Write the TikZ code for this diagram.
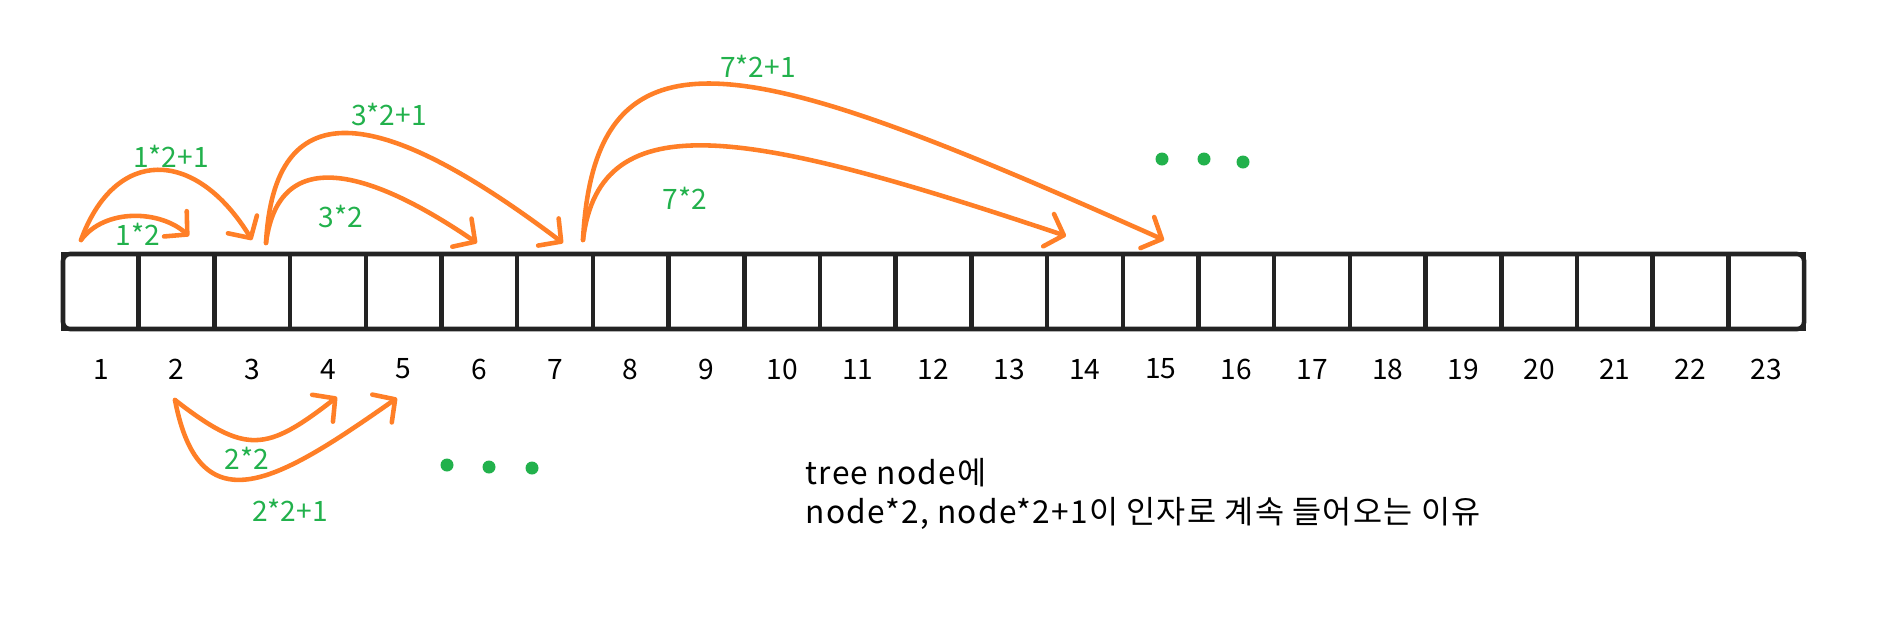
\documentclass[tikz,border=0pt]{standalone}
\usepackage{fontspec}
\newfontfamily\krfont{Noto Sans CJK KR}
\newfontfamily\krnote{Noto Sans CJK KR}[LetterSpace=4]
\usetikzlibrary{arrows.meta, positioning}
\definecolor{PaintOrange}{RGB}{255,127,39}
\definecolor{PaintGreen}{RGB}{34,177,76}
\definecolor{CellGray}{RGB}{35,35,35}
\tikzset{
  cell/.style={rectangle, draw=CellGray, line width=1.3pt, minimum width=7.57mm,
    minimum height=7.5mm, inner sep=0pt, outer sep=0pt},
  idx/.style={font=\krfont\fontsize{8}{10}\selectfont, inner sep=0pt},
  hop/.style={draw=PaintOrange, line width=1.3pt, line cap=round,
    -{Straight Barb[length=1.6mm, width=3.4mm, round]}},
  hoplabel/.style={text=PaintGreen, font=\krfont\fontsize{8}{10}\selectfont, inner sep=0pt},
  dot/.style={circle, fill=PaintGreen, minimum size=1.3mm, inner sep=0pt},
  note/.style={font=\krnote\fontsize{9}{11.1}\selectfont, align=left, inner sep=0pt}
}

\begin{document}
\begin{tikzpicture}
  \useasboundingbox (0,0) rectangle (18.78,-6.2);

  % array cells and indices
  \foreach \i in {1,...,23} {
    \node[cell] (c\i) at ({0.63+(\i-0.5)*0.757},-2.915) {};
    \node[idx] (n\i) at ([yshift=-4mm]c\i.south) {\i};
  }
  \draw[CellGray, line width=1.3pt, rounded corners=2pt] (c1.north west) rectangle (c23.south east);

  % arrow end points
  \coordinate (from1) at (0.81,-2.40);
  \coordinate (to2)   at (1.89,-2.36);
  \coordinate (to3)   at (2.52,-2.40);
  \coordinate (from3) at (2.66,-2.43);
  \coordinate (to6)   at (4.77,-2.43);
  \coordinate (to7)   at (5.63,-2.43);
  \coordinate (from7) at (5.83,-2.40);
  \coordinate (to14)  at (10.66,-2.36);
  \coordinate (to15)  at (11.64,-2.40);
  \coordinate (from2) at (1.75,-4.00);
  \coordinate (to4)   at (3.37,-3.97);
  \coordinate (to5)   at (3.97,-3.98);

  \draw[hop] (from1) .. controls (1.05,-2.08) and (1.60,-2.10) .. (to2);
  \draw[hop] (from1) .. controls (1.15,-1.47) and (1.95,-1.47) .. (to3);
  \draw[hop] (from3) .. controls (2.80,-1.35) and (3.85,-1.80) .. (to6);
  \draw[hop] (from3) .. controls (2.75,-0.75) and (4.00,-1.20) .. (to7);
  \draw[hop] (from7) .. controls (6.00,-1.00) and (7.50,-1.30) .. (to14);
  \draw[hop] (from7) .. controls (5.95,-0.05) and (7.60,-0.60) .. (to15);
  \draw[hop] (from2) .. controls (2.46,-4.55) and (2.66,-4.52) .. (to4);
  \draw[hop] (from2) .. controls (2.00,-5.30) and (2.80,-4.80) .. (to5);

  % labels
  \node[hoplabel] (l3)  at (1.71,-1.56) {1*2+1};
  \node[hoplabel] (l2)  at (1.38,-2.34) {1*2};
  \node[hoplabel] (l7)  at (3.89,-1.14) {3*2+1};
  \node[hoplabel] (l6)  at (3.41,-2.16) {3*2};
  \node[hoplabel] (l15) at (7.58,-0.66) {7*2+1};
  \node[hoplabel] (l14) at (6.85,-1.98) {7*2};
  \node[hoplabel] (l4)  at (2.47,-4.58) {2*2};
  \node[hoplabel] (l5)  at (2.90,-5.10) {2*2+1};

  % ellipsis dots
  \node[dot] (ta) at (11.62,-1.59) {};
  \node[dot] (tb) at (12.04,-1.59) {};
  \node[dot] (tc) at (12.43,-1.62) {};
  \node[dot] (ba) at (4.47,-4.65) {};
  \node[dot] (bb) at (4.89,-4.67) {};
  \node[dot] (bc) at (5.32,-4.68) {};

  \node[note, anchor=west] (why) at (8.05,-4.935)
    {tree node에\\node*2, node*2+1이 인자로 계속 들어오는 이유};
\end{tikzpicture}
\end{document}
